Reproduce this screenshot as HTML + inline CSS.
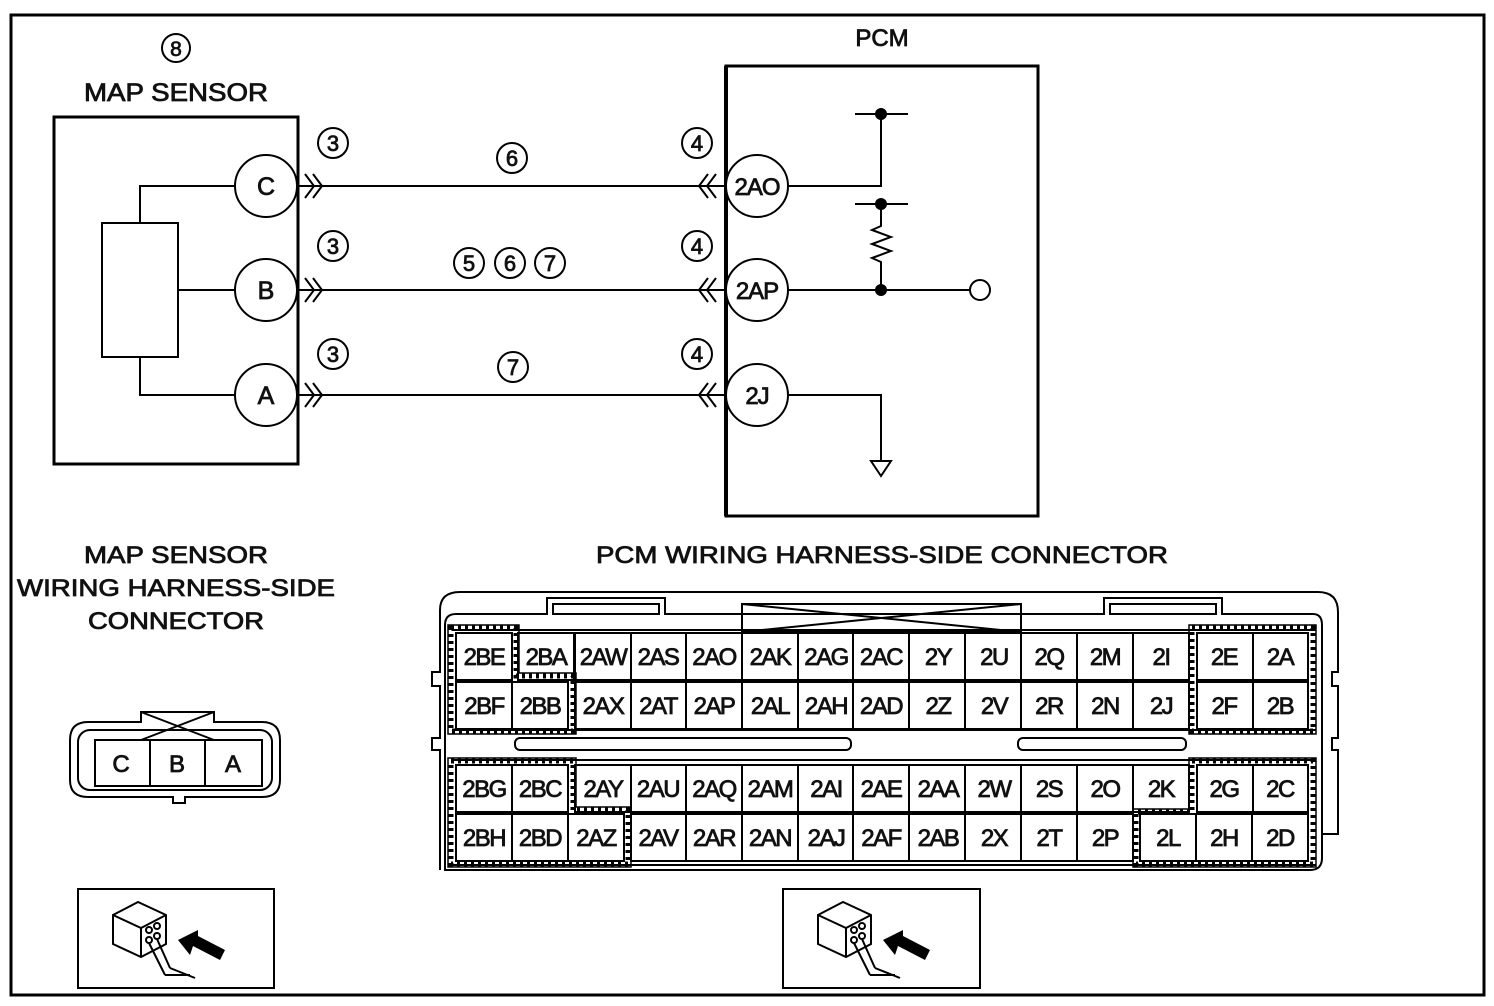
<!DOCTYPE html>
<html><head><style>
html,body{margin:0;padding:0;background:#fff;}
svg{display:block;}
text{font-family:"Liberation Sans",Arial,sans-serif;fill:#111;stroke:#111;stroke-width:0.8;}
</style></head><body>
<svg width="1494" height="1006" viewBox="0 0 1494 1006" xmlns="http://www.w3.org/2000/svg">
<rect x="11" y="15" width="1473" height="980" fill="none" stroke="#000" stroke-width="3"/>

<!-- MAP SENSOR top -->
<circle cx="176" cy="48" r="14" fill="none" stroke="#000" stroke-width="2"/>
<text x="176" y="56" font-size="21" text-anchor="middle">8</text>
<text x="176" y="101" font-size="25" text-anchor="middle" textLength="184" lengthAdjust="spacingAndGlyphs">MAP SENSOR</text>
<rect x="54" y="117" width="244" height="347" fill="none" stroke="#000" stroke-width="3"/>
<rect x="102" y="223" width="76" height="134" fill="none" stroke="#000" stroke-width="2"/>
<g stroke="#000" stroke-width="2" fill="none">
<polyline points="140,223 140,186 235,186"/>
<line x1="178" y1="290" x2="235" y2="290"/>
<polyline points="140,357 140,395 235,395"/>
<circle cx="266" cy="186" r="31" fill="#fff"/>
<circle cx="266" cy="290" r="31" fill="#fff"/>
<circle cx="266" cy="395" r="31" fill="#fff"/>
<line x1="298" y1="186" x2="726" y2="186"/>
<line x1="298" y1="290" x2="726" y2="290"/>
<line x1="298" y1="395" x2="726" y2="395"/>
<polyline points="305,174 314,186 305,198"/><polyline points="313,174 322,186 313,198"/>
<polyline points="305,278 314,290 305,302"/><polyline points="313,278 322,290 313,302"/>
<polyline points="305,383 314,395 305,407"/><polyline points="313,383 322,395 313,407"/>
<polyline points="716,174 707,186 716,198"/><polyline points="708,174 699,186 708,198"/>
<polyline points="716,278 707,290 716,302"/><polyline points="708,278 699,290 708,302"/>
<polyline points="716,383 707,395 716,407"/><polyline points="708,383 699,395 708,407"/>
</g>
<text x="266" y="195" font-size="25" text-anchor="middle">C</text>
<text x="266" y="299" font-size="25" text-anchor="middle">B</text>
<text x="266" y="404" font-size="25" text-anchor="middle">A</text>

<!-- circled numbers -->
<g fill="none" stroke="#000" stroke-width="2">
<circle cx="333" cy="143" r="15"/><circle cx="333" cy="246" r="15"/><circle cx="333" cy="354" r="15"/>
<circle cx="697" cy="143" r="15"/><circle cx="697" cy="246" r="15"/><circle cx="697" cy="354" r="15"/>
<circle cx="512" cy="158" r="15"/>
<circle cx="469" cy="263" r="15"/><circle cx="510" cy="263" r="15"/><circle cx="550" cy="263" r="15"/>
<circle cx="513" cy="367" r="15"/>
</g>
<g font-size="22" text-anchor="middle">
<text x="333" y="151">3</text><text x="333" y="254">3</text><text x="333" y="362">3</text>
<text x="697" y="151">4</text><text x="697" y="254">4</text><text x="697" y="362">4</text>
<text x="512" y="166">6</text>
<text x="469" y="271">5</text><text x="510" y="271">6</text><text x="550" y="271">7</text>
<text x="513" y="375">7</text>
</g>

<!-- PCM -->
<text x="882" y="46" font-size="24" text-anchor="middle">PCM</text>
<rect x="726" y="66" width="312" height="450" fill="none" stroke="#000" stroke-width="3"/>
<line x1="726" y1="66" x2="726" y2="516" stroke="#000" stroke-width="4"/>
<g stroke="#000" stroke-width="2" fill="none">
<circle cx="757" cy="186" r="31" fill="#fff"/>
<circle cx="757" cy="290" r="31" fill="#fff"/>
<circle cx="757" cy="395" r="31" fill="#fff"/>
<polyline points="788,186 881,186 881,114"/>
<line x1="855" y1="114" x2="908" y2="114"/>
<line x1="855" y1="204" x2="908" y2="204"/>
<polyline points="881,204 881,226 872,230 891,237 872,244 891,251 872,258 881,262 881,290"/>
<line x1="788" y1="290" x2="969" y2="290"/>
<circle cx="980" cy="290" r="10"/>
<polyline points="788,395 881,395 881,461"/>
<polygon points="871,461 891,461 881,476"/>
</g>
<circle cx="881" cy="114" r="6"/><circle cx="881" cy="204" r="6"/><circle cx="881" cy="290" r="6"/>
<g font-size="24" text-anchor="middle" letter-spacing="-1">
<text x="757" y="195">2AO</text><text x="757" y="299">2AP</text><text x="757" y="404">2J</text>
</g>

<!-- lower labels -->
<g font-size="24" text-anchor="middle">
<text x="176" y="563" textLength="184" lengthAdjust="spacingAndGlyphs">MAP SENSOR</text>
<text x="176" y="596" textLength="318" lengthAdjust="spacingAndGlyphs">WIRING HARNESS-SIDE</text>
<text x="176" y="629" textLength="176" lengthAdjust="spacingAndGlyphs">CONNECTOR</text>
<text x="882" y="563" textLength="572" lengthAdjust="spacingAndGlyphs">PCM WIRING HARNESS-SIDE CONNECTOR</text>
</g>

<!-- MAP connector -->
<g stroke="#000" stroke-width="2" fill="none">
<path d="M141,722 L141,712 L214,712 L214,722 L262,722 Q280,722 280,740 L280,780 Q280,797 262,797 L185,797 L185,803 L173,803 L173,797 L88,797 Q70,797 70,780 L70,740 Q70,722 88,722 Z"/>
<rect x="78" y="730" width="194" height="60" rx="12"/>
<rect x="95" y="740" width="167" height="46"/>
<line x1="150" y1="740" x2="150" y2="786"/><line x1="205" y1="740" x2="205" y2="786"/>
<line x1="141" y1="712" x2="214" y2="740"/><line x1="214" y1="712" x2="141" y2="740"/>
</g>
<g font-size="24" text-anchor="middle"><text x="121" y="772">C</text><text x="177" y="772">B</text><text x="233" y="772">A</text></g>

<!-- PCM connector shell -->
<g stroke="#000" stroke-width="2" fill="none">
<path d="M440,870 L440,750 L432,750 L432,738 L440,738 L440,686 L432,686 L432,672 L440,672 L440,610 Q440,592 460,592 L1318,592 Q1338,592 1338,612 L1338,672 L1332,672 L1332,686 L1338,686 L1338,738 L1332,738 L1332,750 L1338,750 L1338,834 L1322,834"/>
<path d="M445,870 L445,625 Q445,614 456,614 L547,614 L547,598 L665,598 L665,614 L1104,614 L1104,598 L1222,598 L1222,614 L1313,614 Q1322,614 1322,625 L1322,858 Q1322,870 1310,870 Z"/>
<rect x="553" y="604" width="106" height="10"/><rect x="1110" y="604" width="106" height="10"/>
<rect x="742" y="604" width="279" height="28"/>
<line x1="742" y1="604" x2="1021" y2="632"/><line x1="742" y1="632" x2="1021" y2="604"/>
<rect x="515" y="738" width="336" height="12" rx="5"/>
<rect x="1018" y="738" width="168" height="12" rx="5"/>
<line x1="452" y1="630" x2="1316" y2="630"/>
<line x1="452" y1="730" x2="1316" y2="730"/>
<line x1="452" y1="760" x2="1316" y2="760"/>
<line x1="452" y1="865" x2="1316" y2="865"/>
</g>

<!-- cells -->
<g stroke="#000" stroke-width="2" fill="#fff">
<rect x="456" y="633" width="56" height="47"/><rect x="518" y="633" width="56" height="47"/>
<rect x="575" y="633" width="56" height="47"/><rect x="631" y="633" width="55" height="47"/>
<rect x="686" y="633" width="56" height="47"/><rect x="742" y="633" width="56" height="47"/>
<rect x="798" y="633" width="55" height="47"/><rect x="853" y="633" width="56" height="47"/>
<rect x="909" y="633" width="56" height="47"/><rect x="965" y="633" width="56" height="47"/>
<rect x="1021" y="633" width="56" height="47"/><rect x="1077" y="633" width="56" height="47"/>
<rect x="1133" y="633" width="56" height="47"/><rect x="1197" y="633" width="56" height="47"/>
<rect x="1253" y="633" width="55" height="47"/>
<rect x="456" y="682" width="56" height="47"/><rect x="512" y="682" width="56" height="47"/>
<rect x="575" y="682" width="56" height="47"/><rect x="631" y="682" width="55" height="47"/>
<rect x="686" y="682" width="56" height="47"/><rect x="742" y="682" width="56" height="47"/>
<rect x="798" y="682" width="55" height="47"/><rect x="853" y="682" width="56" height="47"/>
<rect x="909" y="682" width="56" height="47"/><rect x="965" y="682" width="56" height="47"/>
<rect x="1021" y="682" width="56" height="47"/><rect x="1077" y="682" width="56" height="47"/>
<rect x="1133" y="682" width="56" height="47"/><rect x="1197" y="682" width="56" height="47"/>
<rect x="1253" y="682" width="55" height="47"/>
<rect x="456" y="765" width="56" height="47"/><rect x="512" y="765" width="56" height="47"/>
<rect x="575" y="765" width="56" height="47"/><rect x="631" y="765" width="55" height="47"/>
<rect x="686" y="765" width="56" height="47"/><rect x="742" y="765" width="56" height="47"/>
<rect x="798" y="765" width="55" height="47"/><rect x="853" y="765" width="56" height="47"/>
<rect x="909" y="765" width="56" height="47"/><rect x="965" y="765" width="56" height="47"/>
<rect x="1021" y="765" width="56" height="47"/><rect x="1077" y="765" width="56" height="47"/>
<rect x="1133" y="765" width="56" height="47"/><rect x="1197" y="765" width="56" height="47"/>
<rect x="1253" y="765" width="55" height="47"/>
<rect x="456" y="814" width="56" height="47"/><rect x="512" y="814" width="56" height="47"/>
<rect x="568" y="814" width="56" height="47"/><rect x="631" y="814" width="55" height="47"/>
<rect x="686" y="814" width="56" height="47"/><rect x="742" y="814" width="56" height="47"/>
<rect x="798" y="814" width="55" height="47"/><rect x="853" y="814" width="56" height="47"/>
<rect x="909" y="814" width="56" height="47"/><rect x="965" y="814" width="56" height="47"/>
<rect x="1021" y="814" width="56" height="47"/><rect x="1077" y="814" width="56" height="47"/>
<rect x="1140" y="814" width="56" height="47"/><rect x="1196" y="814" width="56" height="47"/>
<rect x="1252" y="814" width="56" height="47"/>
</g>
<g fill="none" stroke="#000" stroke-width="5" stroke-dasharray="3 4">
<polygon points="451,628 516,628 516,676 573,676 573,731 451,731"/>
<polygon points="451,761 573,761 573,810 628,810 628,864 451,864"/>
<polygon points="1192,628 1313,628 1313,731 1192,731"/>
<polygon points="1192,761 1313,761 1313,864 1136,864 1136,812 1192,812"/>
</g>
<g fill="none" stroke="#000" stroke-width="1.5">
<polygon points="448,625 519,625 519,673 576,673 576,734 448,734"/>
<polygon points="448,758 576,758 576,807 631,807 631,867 448,867"/>
<polygon points="1189,625 1316,625 1316,734 1189,734"/>
<polygon points="1189,758 1316,758 1316,867 1133,867 1133,809 1189,809"/>
</g>
<g font-size="24" text-anchor="middle" letter-spacing="-1.5">
<text x="484" y="665">2BE</text><text x="546" y="665">2BA</text><text x="603" y="665">2AW</text><text x="658" y="665">2AS</text><text x="714" y="665">2AO</text><text x="770" y="665">2AK</text><text x="826" y="665">2AG</text><text x="881" y="665">2AC</text><text x="938" y="665">2Y</text><text x="994" y="665">2U</text><text x="1049" y="665">2Q</text><text x="1105" y="665">2M</text><text x="1161" y="665">2I</text><text x="1224" y="665">2E</text><text x="1280" y="665">2A</text>
<text x="484" y="714">2BF</text><text x="540" y="714">2BB</text><text x="603" y="714">2AX</text><text x="658" y="714">2AT</text><text x="714" y="714">2AP</text><text x="770" y="714">2AL</text><text x="826" y="714">2AH</text><text x="881" y="714">2AD</text><text x="938" y="714">2Z</text><text x="994" y="714">2V</text><text x="1049" y="714">2R</text><text x="1105" y="714">2N</text><text x="1161" y="714">2J</text><text x="1224" y="714">2F</text><text x="1280" y="714">2B</text>
<text x="484" y="797">2BG</text><text x="540" y="797">2BC</text><text x="603" y="797">2AY</text><text x="658" y="797">2AU</text><text x="714" y="797">2AQ</text><text x="770" y="797">2AM</text><text x="826" y="797">2AI</text><text x="881" y="797">2AE</text><text x="938" y="797">2AA</text><text x="994" y="797">2W</text><text x="1049" y="797">2S</text><text x="1105" y="797">2O</text><text x="1161" y="797">2K</text><text x="1224" y="797">2G</text><text x="1280" y="797">2C</text>
<text x="484" y="846">2BH</text><text x="540" y="846">2BD</text><text x="596" y="846">2AZ</text><text x="658" y="846">2AV</text><text x="714" y="846">2AR</text><text x="770" y="846">2AN</text><text x="826" y="846">2AJ</text><text x="881" y="846">2AF</text><text x="938" y="846">2AB</text><text x="994" y="846">2X</text><text x="1049" y="846">2T</text><text x="1105" y="846">2P</text><text x="1168" y="846">2L</text><text x="1224" y="846">2H</text><text x="1280" y="846">2D</text>
</g>

<!-- icon boxes -->
<g stroke="#000" stroke-width="2" fill="none">
<rect x="78" y="889" width="196" height="99"/>
<path d="M113,915 L138,902 L166,915 L166,944 L141,957 L113,944 Z"/>
<path d="M113,915 L141,928 L166,915 M141,928 L141,957"/>
<circle cx="149" cy="930" r="3"/><circle cx="157" cy="926" r="3"/><circle cx="149" cy="940" r="3"/><circle cx="157" cy="936" r="3"/>
<path d="M149,943 L165,975 M157,939 L170,968 M165,975 L190,975 M170,968 L195,978"/>
</g>
<polygon points="178,940 198,930 198,936 225,950 220,960 193,946 190,955" fill="#000"/>
<g stroke="#000" stroke-width="2" fill="none">
<rect x="783" y="889" width="197" height="99"/>
<path d="M818,915 L843,902 L871,915 L871,944 L846,957 L818,944 Z"/>
<path d="M818,915 L846,928 L871,915 M846,928 L846,957"/>
<circle cx="854" cy="930" r="3"/><circle cx="862" cy="926" r="3"/><circle cx="854" cy="940" r="3"/><circle cx="862" cy="936" r="3"/>
<path d="M854,943 L870,975 M862,939 L875,968 M870,975 L895,975 M875,968 L900,978"/>
</g>
<polygon points="883,940 903,930 903,936 930,950 925,960 898,946 895,955" fill="#000"/>
</svg>
</body></html>
